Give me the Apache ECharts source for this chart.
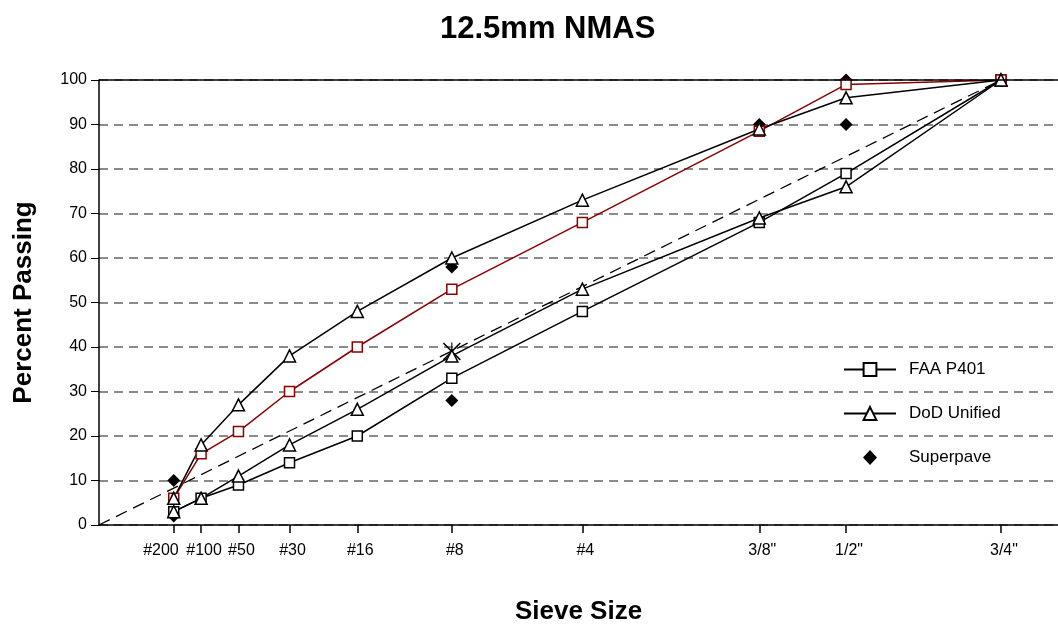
<!DOCTYPE html>
<html>
<head>
<meta charset="utf-8">
<script src="https://cdn.jsdelivr.net/npm/echarts@6/dist/echarts.min.js"></script>
<style>
  html, body { margin: 0; padding: 0; background: #fff; }
  #chart { width: 1058px; height: 624px; }
</style>
</head>
<body>
<div id="chart"></div>
<script>
// sieve sizes (mm) and labels; x axis is size^0.45
const sieveLabels = ['#200', '#100', '#50', '#30', '#16', '#8', '#4', '3/8"', '1/2"', '3/4"'];
const sieveSizes = [0.075, 0.15, 0.3, 0.6, 1.18, 2.36, 4.75, 9.5, 12.5, 19];

const faaUpper = [6, 16, 21, 30, 40, 53, 68, 88.5, 99, 100];
const faaLower = [3, 6, 9, 14, 20, 33, 48, 68, 79, 100];
const dodUpper = [6, 18, 27, 38, 48, 60, 73, 89, 96, 100];
const dodLower = [3, 6, 11, 18, 26, 38, 53, 69, 76, 100];

// superpave control points: [sieve index, percent]
const superpave = [[0, 2], [0, 10], [5, 28], [5, 58], [7, 90], [8, 90], [8, 100], [9, 100]];
// restricted zone mark on the max density line
const restricted = [[5, 39]];

const pw = s => Math.pow(s, 0.45);
const xs = sieveSizes.map(pw);
const pairs = vals => vals.map((v, i) => [xs[i], v]);
const ptList = list => list.map(p => [xs[p[0]], p[1]]);
const sieveName = v => {
  const i = xs.findIndex(x => Math.abs(x - v) < 1e-6);
  return i >= 0 ? sieveLabels[i] : '';
};

const font = "'Liberation Sans Narrow', 'Liberation Sans', Arial, sans-serif";
const hollow = c => ({ color: '#fff', borderColor: c, borderWidth: 1.5 });
const tickLabel = { fontFamily: font, fontSize: 16, color: '#000', margin: 18, hideOverlap: false, formatter: sieveName };

const chart = echarts.init(document.getElementById('chart'));
chart.setOption({
  animation: false,
  backgroundColor: '#fff',
  title: {
    text: '12.5mm NMAS',
    left: 435,
    top: 9,
    textStyle: { fontFamily: font, fontSize: 31, fontWeight: 'bold', color: '#000' }
  },
  legend: {
    orient: 'vertical',
    left: 843,
    top: 361,
    padding: 0,
    itemGap: 27,
    itemWidth: 52,
    itemHeight: 16,
    textStyle: { fontFamily: "'Liberation Sans', Arial, sans-serif", fontSize: 17, color: '#000', padding: [0, 0, 0, 8] },
    data: [
      'FAA P401',
      'DoD Unified',
      { name: 'Superpave', icon: 'path://M0,8L0.05,8L0,8.05Z M52,8L51.95,8L52,8.05Z M26,0.5L33,8L26,15.5L19,8Z' }
    ]
  },
  grid: { left: 99, right: 0, top: 80, bottom: 99, outerBoundsMode: 'none' },
  xAxis: [
    {
      type: 'value',
      min: 0,
      max: 4.0,
      name: 'Sieve Size',
      nameLocation: 'middle',
      nameGap: 74,
      nameTextStyle: { fontFamily: font, fontSize: 26, fontWeight: 'bold', color: '#000' },
      axisLine: { lineStyle: { color: '#000', width: 1.5 } },
      axisTick: { customValues: xs, length: 8, lineStyle: { color: '#000', width: 1.5 } },
      axisLabel: Object.assign({ customValues: xs.slice(1) }, tickLabel, { padding: [0, 0, 0, 6] }),
      splitLine: { show: false }
    },
    {
      // carries only the #200 label, set to the left of its tick like the original
      type: 'value',
      min: 0,
      max: 4.0,
      position: 'bottom',
      axisLine: { show: false },
      axisTick: { show: false },
      axisLabel: Object.assign({ customValues: xs.slice(0, 1) }, tickLabel, { align: 'right', padding: [0, -5, 0, 0] }),
      splitLine: { show: false }
    }
  ],
  yAxis: {
    type: 'value',
    min: 0,
    max: 100,
    interval: 10,
    name: 'Percent Passing',
    nameLocation: 'middle',
    nameGap: 62,
    nameTextStyle: { fontFamily: font, fontSize: 26, fontWeight: 'bold', color: '#000' },
    axisLine: { show: true, lineStyle: { color: '#000', width: 1.5 } },
    axisTick: { show: true, length: 8, lineStyle: { color: '#000' } },
    axisLabel: { fontFamily: font, fontSize: 16, color: '#000', margin: 12 },
    splitLine: { show: true, lineStyle: { color: '#666', type: [9, 6], width: 1.5 } }
  },
  series: [
    {
      name: 'maxdensity',
      type: 'line',
      data: [[0, 0], [xs[9], 100]],
      symbol: 'none',
      lineStyle: { color: '#000', width: 1.3, type: [12, 7] },
      silent: true,
      markLine: {
        symbol: 'none',
        silent: true,
        label: { show: false },
        lineStyle: { color: '#000', width: 1.5, type: 'solid' },
        data: [{ yAxis: 100 }]
      }
    },
    {
      name: 'FAA P401',
      type: 'line',
      data: pairs(faaLower),
      symbol: 'rect',
      symbolSize: 10,
      lineStyle: { color: '#000', width: 1.5 },
      itemStyle: hollow('#000')
    },
    {
      name: 'FAA P401',
      type: 'line',
      data: pairs(faaUpper),
      symbol: 'rect',
      symbolSize: 10,
      lineStyle: { color: '#8b0000', width: 1.5 },
      itemStyle: hollow('#8b0000')
    },
    {
      name: 'DoD Unified',
      type: 'line',
      data: pairs(dodUpper),
      symbol: 'triangle',
      symbolSize: 12,
      lineStyle: { color: '#000', width: 1.5 },
      itemStyle: hollow('#000')
    },
    {
      name: 'DoD Unified',
      type: 'line',
      data: pairs(dodLower),
      symbol: 'triangle',
      symbolSize: 12,
      lineStyle: { color: '#000', width: 1.5 },
      itemStyle: hollow('#000')
    },
    {
      name: 'Superpave',
      type: 'scatter',
      data: ptList(superpave),
      symbol: 'diamond',
      symbolSize: 13,
      itemStyle: { color: '#000', opacity: 1 }
    },
    {
      name: 'restricted',
      type: 'scatter',
      data: ptList(restricted),
      symbol: 'path://M0,1.2 L1.2,0 L10,8.8 L18.8,0 L20,1.2 L11.2,10 L20,18.8 L18.8,20 L10,11.2 L1.2,20 L0,18.8 L8.8,10 Z M9.4,0 L10.6,0 L10.6,20 L9.4,20 Z',
      symbolSize: 18,
      itemStyle: { color: '#000', opacity: 1 }
    }
  ]
});
</script>
</body>
</html>
